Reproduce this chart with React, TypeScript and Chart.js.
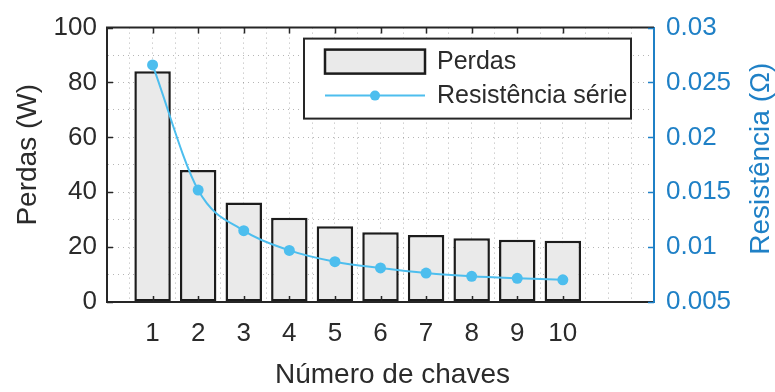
import React, { useEffect, useRef } from "react";
import { Chart, registerables } from "chart.js";

Chart.register(...registerables);

// ---- data ----
const CATEGORIES = [1, 2, 3, 4, 5, 6, 7, 8, 9, 10];
const PERDAS_W = [84.1, 48.1, 36.3, 30.7, 27.6, 25.4, 24.4, 23.2, 22.7, 22.3];
const RESISTENCIA_OHM = [0.0266, 0.0152, 0.0115, 0.0097, 0.00867, 0.0081, 0.00764, 0.00734, 0.00716, 0.00702];
const LEFT_TICKS = [0, 20, 40, 60, 80, 100];
const RIGHT_TICKS = [0.005, 0.01, 0.015, 0.02, 0.025, 0.03];
const RIGHT_TICK_LABELS = ["0.005", "0.01", "0.015", "0.02", "0.025", "0.03"];
const X_TITLE = "Número de chaves";
const Y_TITLE = "Perdas (W)";
const Y1_TITLE = "Resistência (Ω)";
const LEGEND_BAR = "Perdas";
const LEGEND_LINE = "Resistência série";

// ---- style ----
const FONT = "'Liberation Sans', Arial, Helvetica, sans-serif";
const TEXT = "#2b2b2b";
const AXIS_DARK = "#262626";
const RIGHT_BLUE = "#1f80c6";
const LINE_BLUE = "#4dbeee";
const BAR_FILL = "#eaeaea";
const BAR_EDGE = "#1c1c1c";
const GRID = "rgba(110,110,110,0.5)";

const overlayPlugin = {
  id: "overlay",
  afterDraw(chart: any) {
    const { ctx, chartArea: a, scales } = chart;
    const xs = scales.x;
    const ys = scales.y;
    const y1s = scales.y1;
    ctx.save();

    // top frame line
    ctx.strokeStyle = AXIS_DARK;
    ctx.lineWidth = 2;
    ctx.beginPath();
    ctx.moveTo(a.left - 1, a.top);
    ctx.lineTo(a.right, a.top);
    ctx.stroke();

    // inward tick marks
    ctx.lineWidth = 1.5;
    ctx.beginPath();
    CATEGORIES.forEach((c) => {
      const px = Math.round(xs.getPixelForValue(c)) + 0.5;
      ctx.moveTo(px, a.bottom);
      ctx.lineTo(px, a.bottom - 6);
      ctx.moveTo(px, a.top);
      ctx.lineTo(px, a.top + 6);
    });
    LEFT_TICKS.forEach((t) => {
      const py = Math.round(ys.getPixelForValue(t)) + 0.5;
      ctx.moveTo(a.left, py);
      ctx.lineTo(a.left + 6, py);
    });
    ctx.stroke();
    ctx.strokeStyle = RIGHT_BLUE;
    ctx.beginPath();
    RIGHT_TICKS.forEach((t) => {
      const py = Math.round(y1s.getPixelForValue(t)) + 0.5;
      ctx.moveTo(a.right, py);
      ctx.lineTo(a.right - 6, py);
    });
    ctx.stroke();

    // axis titles
    const midY = (a.top + a.bottom) / 2;
    ctx.font = `28px ${FONT}`;
    ctx.textAlign = "center";
    ctx.textBaseline = "alphabetic";
    ctx.fillStyle = TEXT;
    ctx.fillText(X_TITLE, (a.left + a.right) / 2 + 12, a.bottom + 81);

    ctx.save();
    ctx.translate(a.left - 71, midY - 10);
    ctx.rotate(-Math.PI / 2);
    ctx.fillText(Y_TITLE, 0, 0);
    ctx.restore();

    ctx.save();
    ctx.fillStyle = RIGHT_BLUE;
    ctx.translate(a.right + 115, midY - 6);
    ctx.rotate(-Math.PI / 2);
    ctx.fillText(Y1_TITLE, 0, 0);
    ctx.restore();

    // legend
    const bx = a.left + 197;
    const by = a.top + 11;
    const bw = a.right - 23 - bx;
    const bh = 80;
    ctx.fillStyle = "#ffffff";
    ctx.fillRect(bx, by, bw, bh);
    ctx.strokeStyle = AXIS_DARK;
    ctx.lineWidth = 2;
    ctx.strokeRect(bx, by, bw, bh);

    const sx = bx + 21;
    const sw = 100;
    ctx.fillStyle = BAR_FILL;
    ctx.fillRect(sx, by + 11, sw, 24);
    ctx.strokeStyle = BAR_EDGE;
    ctx.lineWidth = 2.5;
    ctx.strokeRect(sx, by + 11, sw, 24);

    const ly = by + 57;
    ctx.strokeStyle = LINE_BLUE;
    ctx.lineWidth = 2;
    ctx.beginPath();
    ctx.moveTo(sx, ly);
    ctx.lineTo(sx + sw, ly);
    ctx.stroke();
    ctx.fillStyle = LINE_BLUE;
    ctx.beginPath();
    ctx.arc(sx + sw / 2, ly, 5, 0, Math.PI * 2);
    ctx.fill();

    ctx.fillStyle = TEXT;
    ctx.font = `25px ${FONT}`;
    ctx.textAlign = "left";
    ctx.textBaseline = "middle";
    ctx.fillText(LEGEND_BAR, sx + sw + 12, by + 24);
    ctx.fillText(LEGEND_LINE, sx + sw + 12, ly + 1);

    ctx.restore();
  },
};

export default function App() {
  const canvasRef = useRef<HTMLCanvasElement | null>(null);

  useEffect(() => {
    document.body.style.margin = "0";
    const canvas = canvasRef.current;
    if (!canvas) return;
    Chart.defaults.font.family = FONT;
    Chart.defaults.color = TEXT;

    const chart = new Chart(canvas, {
      type: "bar",
      data: {
        datasets: [
          {
            type: "line",
            label: LEGEND_LINE,
            data: CATEGORIES.map((c, i) => ({ x: c, y: RESISTENCIA_OHM[i] })),
            xAxisID: "x",
            yAxisID: "y1",
            borderColor: LINE_BLUE,
            backgroundColor: LINE_BLUE,
            borderWidth: 2,
            pointRadius: 5.5,
            pointBorderWidth: 0,
            pointBackgroundColor: LINE_BLUE,
            cubicInterpolationMode: "monotone",
            order: 0,
          } as any,
          {
            type: "bar",
            label: LEGEND_BAR,
            data: CATEGORIES.map((c, i) => ({ x: c, y: PERDAS_W[i] })),
            xAxisID: "x",
            yAxisID: "y",
            backgroundColor: BAR_FILL,
            borderColor: BAR_EDGE,
            borderWidth: 2.5,
            borderSkipped: false,
            barPercentage: 0.8,
            categoryPercentage: 1,
            order: 1,
          } as any,
        ],
      },
      options: {
        animation: false,
        responsive: true,
        maintainAspectRatio: false,
        layout: { padding: { top: 21, left: 0, right: 0, bottom: 0 } },
        plugins: {
          legend: { display: false },
          tooltip: { enabled: false },
        },
        scales: {
          x: {
            type: "linear",
            position: "bottom",
            offset: false,
            min: 0,
            max: 12,
            afterFit: (s: any) => {
              s.height = 90;
            },
            ticks: {
              stepSize: 1,
              autoSkip: false,
              maxRotation: 0,
              padding: 16,
              color: TEXT,
              font: { size: 26 },
              callback: (v: any) => (CATEGORIES.includes(Number(v)) ? String(v) : ""),
            },
            grid: { display: false, drawTicks: false, offset: false },
            border: { display: true, color: AXIS_DARK, width: 2, z: 1 },
          },
          xMinor: {
            type: "linear",
            position: "bottom",
            offset: false,
            min: 0,
            max: 12,
            afterFit: (s: any) => {
              s.height = 0;
            },
            ticks: { display: false, stepSize: 0.5, autoSkip: false },
            grid: { display: true, drawTicks: false, offset: false, color: GRID, lineWidth: 1 },
            border: { display: false, dash: [1, 4] },
          },
          y: {
            type: "linear",
            position: "left",
            min: 0,
            max: 100,
            afterFit: (s: any) => {
              s.width = 107;
            },
            ticks: {
              stepSize: 10,
              autoSkip: false,
              padding: 10,
              color: TEXT,
              font: { size: 26 },
              callback: (v: any) => (LEFT_TICKS.includes(Number(v)) ? String(v) : ""),
            },
            grid: { display: true, drawTicks: false, color: GRID, lineWidth: 1 },
            border: { display: true, color: AXIS_DARK, width: 2, dash: [1, 4], z: 1 },
          },
          y1: {
            type: "linear",
            position: "right",
            min: 0.005,
            max: 0.03,
            afterFit: (s: any) => {
              s.width = 121;
            },
            ticks: {
              stepSize: 0.005,
              autoSkip: false,
              padding: 12,
              color: RIGHT_BLUE,
              font: { size: 26 },
              callback: (v: any) => {
                const i = RIGHT_TICKS.findIndex((t) => Math.abs(t - Number(v)) < 1e-9);
                return i >= 0 ? RIGHT_TICK_LABELS[i] : "";
              },
            },
            grid: { display: false, drawTicks: false },
            border: { display: true, color: RIGHT_BLUE, width: 2, z: 1 },
          },
        },
      } as any,
      plugins: [overlayPlugin],
    });

    return () => {
      chart.destroy();
    };
  }, []);

  return (
    <div style={{ position: "relative", width: 775, height: 392, background: "#ffffff" }}>
      <canvas ref={canvasRef} />
    </div>
  );
}
